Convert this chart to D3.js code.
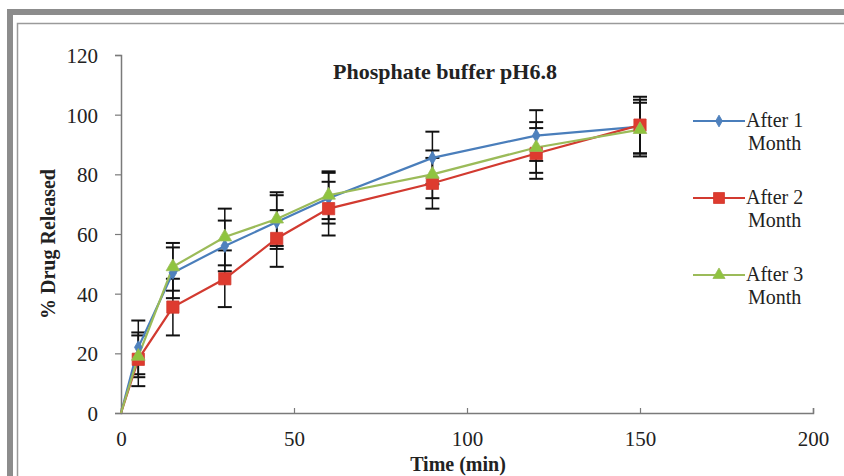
<!DOCTYPE html>
<html>
<head>
<meta charset="utf-8">
<script src="https://cdn.jsdelivr.net/npm/d3@7"></script>
<style>
  body { margin: 0; background: #fff; }
  svg text { font-family: "Liberation Serif", "Times New Roman", serif; fill: #222; }
</style>
</head>
<body>
<div class="chart"></div>
<script>
// time points (min)
let times = [0, 5, 15, 30, 45, 60, 90, 120, 150];

// % drug released, mean values
let month1 = [0, 22, 47, 56, 64, 72, 85.5, 93, 96];
let month2 = [0, 18, 35.5, 45, 58.5, 68.5, 77, 87, 96.5];
let month3 = [0, 19, 49, 59, 65, 73, 80, 89, 95];

// standard deviations (error bars)
let sd1 = [0, 9, 8.5, 8.5, 9, 8.5, 8.8, 8.5, 9];
let sd2 = [0, 9, 9.5, 9.5, 9.5, 9, 8.5, 8.5, 9.5];
let sd3 = [0, 7, 8, 9.5, 9, 8, 8, 8.5, 9];

let seriesNames = ["After 1 Month", "After 2 Month", "After 3 Month"];
let xTicks = [0, 50, 100, 150, 200];
let yTicks = [0, 20, 40, 60, 80, 100, 120];

let w = 844;
let h = 476;

let series = [
    { name: seriesNames[0], vals: month1, sd: sd1, color: "#4a7ebb", fill: "#4f81bd", shape: d3.symbolDiamond, size: 50 },
    { name: seriesNames[1], vals: month2, sd: sd2, color: "#d23a30", fill: "#de3b2f", shape: d3.symbolSquare, size: 150 },
    { name: seriesNames[2], vals: month3, sd: sd3, color: "#9bbb59", fill: "#8fc43f", shape: d3.symbolTriangle, size: 80 }
];

const svg = d3.select(".chart")
    .append("svg")
    .attr("width", w)
    .attr("height", h);

// outer frame
svg.append("rect")
    .attr("x", 10).attr("y", 12)
    .attr("width", w + 20).attr("height", h + 20)
    .attr("fill", "none")
    .attr("stroke", "#8c8c8c")
    .attr("stroke-width", 6);
svg.append("rect")
    .attr("x", 17.5).attr("y", 23.5)
    .attr("width", w).attr("height", h)
    .attr("fill", "none")
    .attr("stroke", "#9a9a9a")
    .attr("stroke-width", 1.5);

let xScale = d3.scaleLinear()
    .domain([0, 200])
    .range([121, 813]);

let yScale = d3.scaleLinear()
    .domain([0, 120])
    .range([413, 55]);

const xAxis = d3.axisBottom(xScale).tickValues(xTicks).tickSize(-5).tickPadding(18);
const yAxis = d3.axisLeft(yScale).tickValues(yTicks).tickSize(6).tickPadding(17);

let gx = svg.append("g")
    .attr("transform", "translate(0, 413)")
    .call(xAxis);
let gy = svg.append("g")
    .attr("transform", "translate(121, 0)")
    .call(yAxis);

[gx, gy].forEach(g => {
    g.select(".domain").attr("stroke", "#7a7a7a").attr("stroke-width", 1.5);
    g.selectAll(".tick line").attr("stroke", "#7a7a7a").attr("stroke-width", 1.2);
    g.selectAll(".tick text")
        .style("font-family", "'Liberation Serif', serif")
        .style("font-size", "21px")
        .attr("fill", "#333");
});
gy.selectAll(".tick text").attr("dy", "0.35em");

// error bars
series.forEach(s => {
    let g = svg.append("g");
    times.forEach((t, i) => {
        if (s.sd[i] === 0) return;
        let x = xScale(t);
        let y1 = yScale(s.vals[i] + s.sd[i]);
        let y2 = yScale(s.vals[i] - s.sd[i]);
        g.append("line").attr("x1", x).attr("x2", x).attr("y1", y1).attr("y2", y2)
            .attr("stroke", "#111").attr("stroke-width", 1.5);
        [y1, y2].forEach(yy => {
            g.append("line").attr("x1", x - 7).attr("x2", x + 7).attr("y1", yy).attr("y2", yy)
                .attr("stroke", "#111").attr("stroke-width", 2);
        });
    });
});

// lines and markers
let line = d3.line()
    .x((d, i) => xScale(times[i]))
    .y(d => yScale(d));

series.forEach(s => {
    svg.append("path")
        .datum(s.vals)
        .attr("d", line)
        .attr("fill", "none")
        .attr("stroke", s.color)
        .attr("stroke-width", 2.2);
});

series.forEach(s => {
    svg.selectAll(null)
        .data(s.vals.slice(1))
        .enter()
        .append("path")
        .attr("d", d3.symbol().type(s.shape).size(s.size))
        .attr("transform", (d, i) => `translate(${xScale(times[i + 1])},${yScale(d)})`)
        .attr("fill", s.fill)
        .attr("stroke", s.color)
        .attr("stroke-width", 0.8);
});

// title
svg.append("text")
    .attr("x", 445).attr("y", 79)
    .attr("text-anchor", "middle")
    .style("font-size", "22px")
    .style("font-weight", "bold")
    .text("Phosphate buffer pH6.8");

// axis titles
svg.append("text")
    .attr("x", 458).attr("y", 471)
    .attr("text-anchor", "middle")
    .style("font-size", "20px")
    .style("font-weight", "bold")
    .text("Time (min)");

svg.append("text")
    .attr("transform", "rotate(-90)")
    .attr("x", -244).attr("y", 55)
    .attr("text-anchor", "middle")
    .style("font-size", "20px")
    .style("font-weight", "bold")
    .text("% Drug Released");

// legend
let legend = svg.selectAll(".legend")
    .data(series)
    .enter()
    .append("g")
    .attr("transform", (d, i) => `translate(693, ${121 + i * 77})`);

legend.append("line")
    .attr("x1", 0).attr("x2", 52)
    .attr("y1", 0).attr("y2", 0)
    .attr("stroke", d => d.color)
    .attr("stroke-width", 2.2);
legend.append("path")
    .attr("d", d => d3.symbol().type(d.shape).size(d.size * 0.8)())
    .attr("transform", "translate(26,0)")
    .attr("fill", d => d.fill)
    .attr("stroke", d => d.color)
    .attr("stroke-width", 0.8);
legend.append("text")
    .attr("x", 53).attr("y", 6)
    .style("font-size", "20px")
    .text(d => d.name.split(" ").slice(0, 2).join(" "));
legend.append("text")
    .attr("x", 55).attr("y", 29)
    .style("font-size", "20px")
    .text(d => d.name.split(" ")[2]);
</script>
</body>
</html>
